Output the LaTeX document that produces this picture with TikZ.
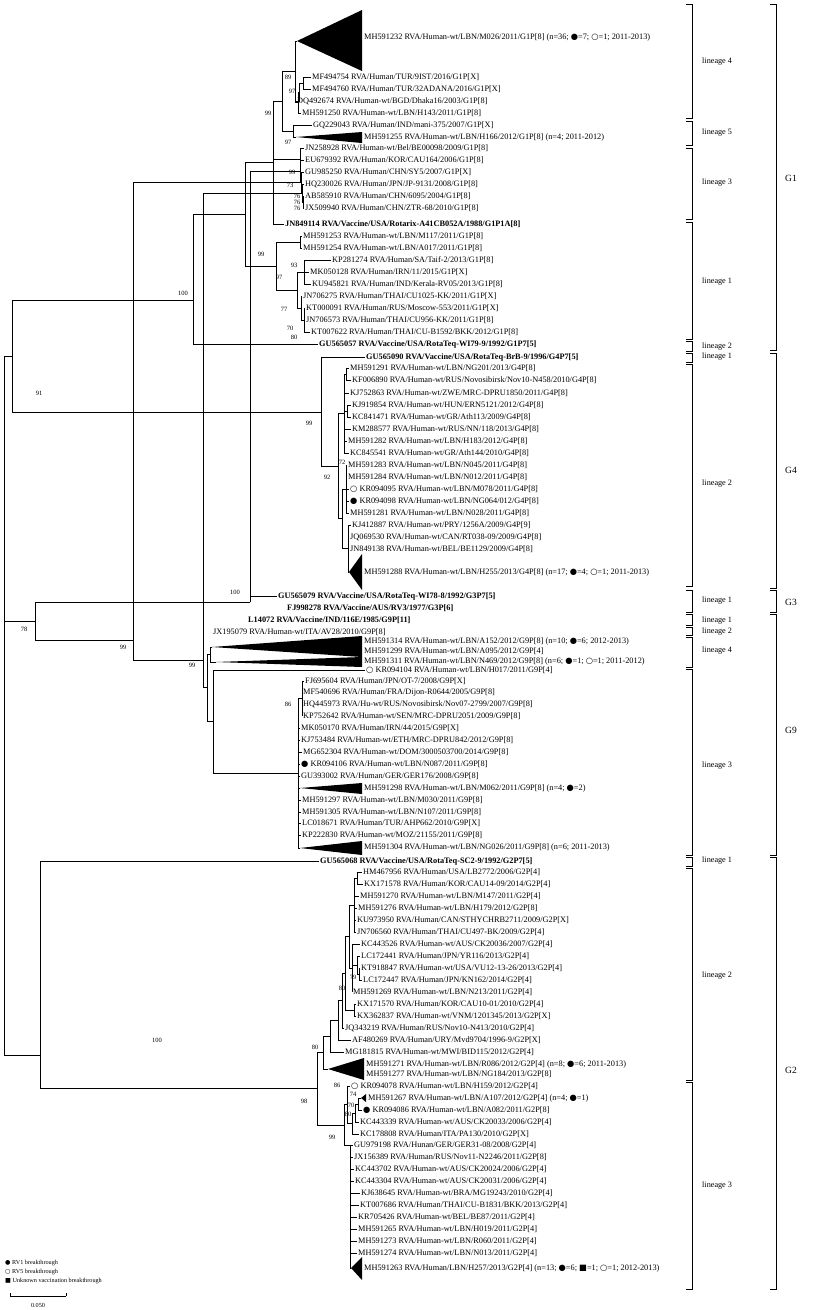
\documentclass[tikz,border=0pt]{standalone}
\usepackage{fontspec}
\setmainfont{Liberation Serif}
\newfontfamily\symf{DejaVu Sans}
\newcommand\mybk{{\symf ●}}
\newcommand\mywh{{\symf ○}}
\newcommand\mysq{{\symf ■}}
\begin{document}
\begin{tikzpicture}[x=1pt,y=-1pt,
  leaf/.style={anchor=west,inner sep=1pt,font=\fontsize{8.3}{9}\selectfont,text height=5.7pt,text depth=1.6pt},
  vac/.style={leaf,font=\fontsize{8.3}{9}\selectfont\bfseries},
  bs/.style={font=\fontsize{6.5}{7}\selectfont,inner sep=0pt},
  br/.style={line width=0.7pt},
  tri/.style={fill=black},
  brk/.style={line width=0.9pt},
  lin/.style={anchor=west,inner sep=0pt,font=\fontsize{8.2}{9}\selectfont},
  gl/.style={anchor=west,inner sep=0pt,font=\fontsize{9.5}{10}\selectfont},
  lgd/.style={anchor=west,inner sep=0pt,font=\fontsize{6.2}{7}\selectfont}]
\useasboundingbox (0,0) rectangle (816,1310);
% ---------------- G1 leaves
\node[leaf] (t1) at (363,37) {MH591232 RVA/Human-wt/LBN/M026/2011/G1P[8] (n=36; \mybk=7; \mywh=1; 2011-2013)};
\node[leaf] (a2) at (311,77) {MF494754 RVA/Human/TUR/9IST/2016/G1P[X]};
\node[leaf] (a3) at (311,89) {MF494760 RVA/Human/TUR/32ADANA/2016/G1P[X]};
\node[leaf] (a4) at (296,101) {DQ492674 RVA/Human-wt/BGD/Dhaka16/2003/G1P[8]};
\node[leaf] (a5) at (301,113) {MH591250 RVA/Human-wt/LBN/H143/2011/G1P[8]};
\node[leaf] (a6) at (312,125) {GQ229043 RVA/Human/IND/mani-375/2007/G1P[X]};
\node[leaf] (t7) at (363,137) {MH591255 RVA/Human-wt/LBN/H166/2012/G1P[8] (n=4; 2011-2012)};
\node[leaf] (a8) at (304,148) {JN258928 RVA/Human-wt/Bel/BE00098/2009/G1P[8]};
\node[leaf] (a9) at (304,160) {EU679392 RVA/Human/KOR/CAU164/2006/G1P[8]};
\node[leaf] (a10) at (304,172) {GU985250 RVA/Human/CHN/SY5/2007/G1P[X]};
\node[leaf] (a11) at (304,184) {HQ230026 RVA/Human/JPN/JP-9131/2008/G1P[8]};
\node[leaf] (a12) at (304,196) {AB585910 RVA/Human/CHN/6095/2004/G1P[8]};
\node[leaf] (a13) at (304,208) {JX509940 RVA/Human/CHN/ZTR-68/2010/G1P[8]};
\node[vac] (a14) at (284,224) {JN849114 RVA/Vaccine/USA/Rotarix-A41CB052A/1988/G1P1A[8]};
\node[leaf] (a15) at (302,236) {MH591253 RVA/Human-wt/LBN/M117/2011/G1P[8]};
\node[leaf] (a16) at (302,248) {MH591254 RVA/Human-wt/LBN/A017/2011/G1P[8]};
\node[leaf] (a17) at (331,260) {KP281274 RVA/Human/SA/Taif-2/2013/G1P[8]};
\node[leaf] (a18) at (309,272) {MK050128 RVA/Human/IRN/11/2015/G1P[X]};
\node[leaf] (a19) at (311,284) {KU945821 RVA/Human/IND/Kerala-RV05/2013/G1P[8]};
\node[leaf] (a20) at (302,296) {JN706275 RVA/Human/THAI/CU1025-KK/2011/G1P[X]};
\node[leaf] (a21) at (305,308) {KT000091 RVA/Human/RUS/Moscow-553/2011/G1P[X]};
\node[leaf] (a22) at (305,320) {JN706573 RVA/Human/THAI/CU956-KK/2011/G1P[8]};
\node[leaf] (a23) at (310,332) {KT007622 RVA/Human/THAI/CU-B1592/BKK/2012/G1P[8]};
\node[vac] (a24) at (318,344) {GU565057 RVA/Vaccine/USA/RotaTeq-WI79-9/1992/G1P7[5]};
% ---------------- G4 leaves
\node[vac] (b1) at (365,357) {GU565090 RVA/Vaccine/USA/RotaTeq-BrB-9/1996/G4P7[5]};
\node[leaf] (b2) at (349,368) {MH591291 RVA/Human-wt/LBN/NG201/2013/G4P[8]};
\node[leaf] (b3) at (351,380) {KF006890 RVA/Human-wt/RUS/Novosibirsk/Nov10-N458/2010/G4P[8]};
\node[leaf] (b4) at (349,393) {KJ752863 RVA/Human-wt/ZWE/MRC-DPRU1850/2011/G4P[8]};
\node[leaf] (b5) at (351,405) {KJ919854 RVA/Human-wt/HUN/ERN5121/2012/G4P[8]};
\node[leaf] (b6) at (351,417) {KC841471 RVA/Human-wt/GR/Ath113/2009/G4P[8]};
\node[leaf] (b7) at (351,429) {KM288577 RVA/Human-wt/RUS/NN/118/2013/G4P[8]};
\node[leaf] (b8) at (347,441) {MH591282 RVA/Human-wt/LBN/H183/2012/G4P[8]};
\node[leaf] (b9) at (349,453) {KC845541 RVA/Human-wt/GR/Ath144/2010/G4P[8]};
\node[leaf] (b10) at (347,465) {MH591283 RVA/Human-wt/LBN/N045/2011/G4P[8]};
\node[leaf] (b11) at (347,477) {MH591284 RVA/Human-wt/LBN/N012/2011/G4P[8]};
\node[leaf] (b12) at (349,489) {\mywh\ KR094095 RVA/Human-wt/LBN/M078/2011/G4P[8]};
\node[leaf] (b13) at (349,501) {\mybk\ KR094098 RVA/Human-wt/LBN/NG064/012/G4P[8]};
\node[leaf] (b14) at (349,513) {MH591281 RVA/Human-wt/LBN/N028/2011/G4P[8]};
\node[leaf] (b15) at (351,525) {KJ412887 RVA/Human-wt/PRY/1256A/2009/G4P[9]};
\node[leaf] (b16) at (349,537) {JQ069530 RVA/Human-wt/CAN/RT038-09/2009/G4P[8]};
\node[leaf] (b17) at (349,549) {JN849138 RVA/Human-wt/BEL/BE1129/2009/G4P[8]};
\node[leaf] (t18) at (363,572) {MH591288 RVA/Human-wt/LBN/H255/2013/G4P[8] (n=17; \mybk=4; \mywh=1; 2011-2013)};
% ---------------- G3 / G9 leaves
\node[vac] (c1) at (277,596) {GU565079 RVA/Vaccine/USA/RotaTeq-WI78-8/1992/G3P7[5]};
\node[vac] (c2) at (286,608) {FJ998278 RVA/Vaccine/AUS/RV3/1977/G3P[6]};
\node[vac] (c3) at (247,620) {L14072 RVA/Vaccine/IND/116E/1985/G9P[11]};
\node[leaf] (c4) at (212,632) {JX195079 RVA/Human-wt/ITA/AV28/2010/G9P[8]};
\node[leaf] (t5) at (363,641) {MH591314 RVA/Human-wt/LBN/A152/2012/G9P[8] (n=10; \mybk=6; 2012-2013)};
\node[leaf] (t5b) at (363,651) {MH591299 RVA/Human-wt/LBN/A095/2012/G9P[4]};
\node[leaf] (t6) at (363,661) {MH591311 RVA/Human-wt/LBN/N469/2012/G9P[8] (n=6; \mybk=1; \mywh=1; 2011-2012)};
\node[leaf] (c7) at (365,670) {\mywh\ KR094104 RVA/Human-wt/LBN/H017/2011/G9P[4]};
\node[leaf] (c8) at (304,681) {FJ695604 RVA/Human/JPN/OT-7/2008/G9P[X]};
\node[leaf] (c9) at (302,692) {MF540696 RVA/Human/FRA/Dijon-R0644/2005/G9P[8]};
\node[leaf] (c10) at (302,704) {HQ445973 RVA/Hu-wt/RUS/Novosibirsk/Nov07-2799/2007/G9P[8]};
\node[leaf] (c11) at (302,716) {KP752642 RVA/Human-wt/SEN/MRC-DPRU2051/2009/G9P[8]};
\node[leaf] (c12) at (300,728) {MK050170 RVA/Human/IRN/44/2015/G9P[X]};
\node[leaf] (c13) at (300,740) {KJ753484 RVA/Human-wt/ETH/MRC-DPRU842/2012/G9P[8]};
\node[leaf] (c14) at (302,752) {MG652304 RVA/Human-wt/DOM/3000503700/2014/G9P[8]};
\node[leaf] (c15) at (300,764) {\mybk\ KR094106 RVA/Human-wt/LBN/N087/2011/G9P[8]};
\node[leaf] (c16) at (300,776) {GU393002 RVA/Human/GER/GER176/2008/G9P[8]};
\node[leaf] (t17) at (363,788) {MH591298 RVA/Human-wt/LBN/M062/2011/G9P[8] (n=4; \mybk=2)};
\node[leaf] (c18) at (301,800) {MH591297 RVA/Human-wt/LBN/M030/2011/G9P[8]};
\node[leaf] (c19) at (301,812) {MH591305 RVA/Human-wt/LBN/N107/2011/G9P[8]};
\node[leaf] (c20) at (301,823) {LC018671 RVA/Human/TUR/AHP662/2010/G9P[X]};
\node[leaf] (c21) at (301,835) {KP222830 RVA/Human-wt/MOZ/21155/2011/G9P[8]};
\node[leaf] (t22) at (363,847) {MH591304 RVA/Human-wt/LBN/NG026/2011/G9P[8] (n=6; 2011-2013)};
% ---------------- G2 leaves
\node[vac] (d1) at (319,861) {GU565068 RVA/Vaccine/USA/RotaTeq-SC2-9/1992/G2P7[5]};
\node[leaf] (d2) at (362,872) {HM467956 RVA/Human/USA/LB2772/2006/G2P[4]};
\node[leaf] (d3) at (363,884) {KX171578 RVA/Human/KOR/CAU14-09/2014/G2P[4]};
\node[leaf] (d4) at (359,896) {MH591270 RVA/Human-wt/LBN/M147/2011/G2P[4]};
\node[leaf] (d5) at (357,908) {MH591276 RVA/Human-wt/LBN/H179/2012/G2P[8]};
\node[leaf] (d6) at (356,920) {KU973950 RVA/Human/CAN/STHYCHRB2711/2009/G2P[X]};
\node[leaf] (d7) at (356,932) {JN706560 RVA/Human/THAI/CU497-BK/2009/G2P[4]};
\node[leaf] (d8) at (360,944) {KC443526 RVA/Human-wt/AUS/CK20036/2007/G2P[4]};
\node[leaf] (d9) at (360,956) {LC172441 RVA/Human/JPN/YR116/2013/G2P[4]};
\node[leaf] (d10) at (360,968) {KT918847 RVA/Human-wt/USA/VU12-13-26/2013/G2P[4]};
\node[leaf] (d11) at (362,980) {LC172447 RVA/Human/JPN/KN162/2014/G2P[4]};
\node[leaf] (d12) at (352,992) {MH591269 RVA/Human-wt/LBN/N213/2011/G2P[4]};
\node[leaf] (d13) at (356,1004) {KX171570 RVA/Human/KOR/CAU10-01/2010/G2P[4]};
\node[leaf] (d14) at (356,1016) {KX362837 RVA/Human-wt/VNM/1201345/2013/G2P[X]};
\node[leaf] (d15) at (344,1028) {JQ343219 RVA/Human/RUS/Nov10-N413/2010/G2P[4]};
\node[leaf] (d16) at (351,1040) {AF480269 RVA/Human/URY/Mvd9704/1996-9/G2P[X]};
\node[leaf] (d17) at (344,1052) {MG181815 RVA/Human-wt/MWI/BID115/2012/G2P[4]};
\node[leaf] (t18b) at (365,1064) {MH591271 RVA/Human-wt/LBN/R086/2012/G2P[4] (n=8; \mybk=6; 2011-2013)};
\node[leaf] (t18c) at (365,1074) {MH591277 RVA/Human-wt/LBN/NG184/2013/G2P[8]};
\node[leaf] (d19) at (350,1086) {\mywh\ KR094078 RVA/Human-wt/LBN/H159/2012/G2P[4]};
\node[leaf] (t20) at (367,1098) {MH591267 RVA/Human-wt/LBN/A107/2012/G2P[4] (n=4; \mybk=1)};
\node[leaf] (d21) at (362,1110) {\mybk\ KR094086 RVA/Human-wt/LBN/A082/2011/G2P[8]};
\node[leaf] (d22) at (359,1122) {KC443339 RVA/Human-wt/AUS/CK20033/2006/G2P[4]};
\node[leaf] (d23) at (359,1134) {KC178808 RVA/Human/ITA/PA130/2010/G2P[X]};
\node[leaf] (d24) at (353,1145) {GU979198 RVA/Hunan/GER/GER31-08/2008/G2P[4]};
\node[leaf] (d25) at (353,1157) {JX156389 RVA/Human/RUS/Nov11-N2246/2011/G2P[8]};
\node[leaf] (d26) at (354,1169) {KC443702 RVA/Human-wt/AUS/CK20024/2006/G2P[4]};
\node[leaf] (d27) at (354,1181) {KC443304 RVA/Human-wt/AUS/CK20031/2006/G2P[4]};
\node[leaf] (d28) at (360,1193) {KJ638645 RVA/Human-wt/BRA/MG19243/2010/G2P[4]};
\node[leaf] (d29) at (359,1205) {KT007686 RVA/Human/THAI/CU-B1831/BKK/2013/G2P[4]};
\node[leaf] (d30) at (357,1217) {KR705426 RVA/Human-wt/BEL/BE87/2011/G2P[4]};
\node[leaf] (d31) at (357,1229) {MH591265 RVA/Human-wt/LBN/H019/2011/G2P[4]};
\node[leaf] (d32) at (357,1241) {MH591273 RVA/Human-wt/LBN/R060/2011/G2P[4]};
\node[leaf] (d33) at (357,1253) {MH591274 RVA/Human-wt/LBN/N013/2011/G2P[4]};
\node[leaf] (t34) at (363,1268) {MH591263 RVA/Human/LBN/H257/2013/G2P[4] (n=13; \mybk=6; \mysq=1; \mywh=1; 2012-2013)};
% ---------------- collapsed clades
\coordinate (T1) at (297,41);   \fill[tri] (T1) -- (362,10) -- (362,71) -- cycle;
\coordinate (T7) at (296,137);  \fill[tri] (T7) -- (362,132) -- (362,143) -- cycle;
\coordinate (T18) at (349,572); \fill[tri] (T18) -- (362,554) -- (362,590) -- cycle;
\coordinate (T5) at (212,647);  \fill[tri] (T5) -- (362,636) -- (362,657) -- cycle;
\coordinate (T6) at (216,662);  \fill[tri] (T6) -- (362,657) -- (362,667) -- cycle;
\coordinate (T17) at (300,788); \fill[tri] (T17) -- (362,783) -- (362,794) -- cycle;
\coordinate (T22) at (300,848); \fill[tri] (T22) -- (362,841) -- (362,855) -- cycle;
\coordinate (T2b) at (328,1069);\fill[tri] (T2b) -- (364,1058) -- (364,1080) -- cycle;
\coordinate (T20) at (361,1098);\fill[tri] (T20) -- (366,1094) -- (366,1102) -- cycle;
\coordinate (T34) at (351,1268);\fill[tri] (T34) -- (362,1257) -- (362,1280) -- cycle;
% ---------------- internal nodes
\coordinate (p89) at (303,83);
\coordinate (n97) at (299,92);
\coordinate (n4b) at (298,102.5);
\coordinate (L4) at (295,71.75);
\coordinate (L5) at (293,131);
\coordinate (L45) at (282,101.4);
\coordinate (c5) at (303,202);
\coordinate (c4) at (302,193);
\coordinate (c3) at (301,182.5);
\coordinate (c2) at (300.5,171.25);
\coordinate (L3) at (300,159.6);
\coordinate (NB) at (273,162.7);
\coordinate (n1a) at (300,242);
\coordinate (n1c) at (304,272);
\coordinate (n1f) at (304,320);
\coordinate (n1e) at (301,308);
\coordinate (n1b) at (297,290);
\coordinate (L1) at (276,266);
\coordinate (NA) at (245,214.4);
\coordinate (G1) at (193,300);
\coordinate (n4p) at (346,374);
\coordinate (n4q) at (347,411);
\coordinate (nTop) at (344,413.5);
\coordinate (n72) at (346,489);
\coordinate (n4u) at (348,548.5);
\coordinate (nBot) at (342,518.75);
\coordinate (L2g4) at (338,466.1);
\coordinate (G4) at (321,412);
\coordinate (G14) at (12,356);
\coordinate (G3) at (250,602);
\coordinate (n94) at (210,654.5);
\coordinate (n86) at (302,698.5);
\coordinate (n93b) at (298,773.25);
\coordinate (n93) at (213,721.1);
\coordinate (N9b) at (207,687.8);
\coordinate (N9a) at (203,659.9);
\coordinate (G9) at (133,640);
\coordinate (G39) at (35,621);
\coordinate (n2p) at (357,878);
\coordinate (n2q) at (354,905);
\coordinate (n2r) at (359,974);
\coordinate (n2s) at (357,965);
\coordinate (n2t) at (352,968);
\coordinate (n2u) at (349,936.5);
\coordinate (n2v) at (354,1010);
\coordinate (n2w) at (345,973.25);
\coordinate (n2x) at (342,1000.6);
\coordinate (n2y) at (338,1020.3);
\coordinate (n2z) at (330,1036.2);
\coordinate (L2r) at (323,1052.6);
\coordinate (n3c) at (358,1104);
\coordinate (n3d) at (355,1113);
\coordinate (n3e) at (352,1123.5);
\coordinate (n3a) at (347,1104.75);
\coordinate (n3f) at (350,1145.25);
\coordinate (L3r) at (344,1125);
\coordinate (n2b) at (317,1088.8);
\coordinate (G2) at (40,1055);
\coordinate (root) at (4,621);
% ---------------- branches
\begin{scope}[br]
\draw (p89) |- (a2.west); \draw (p89) |- (a3.west);
\draw (n97) |- (p89); \draw (n97) |- (a4.west);
\draw (n4b) |- (n97); \draw (n4b) |- (a5.west);
\draw (L4) |- (T1); \draw (L4) |- (n4b);
\draw (L5) |- (a6.west); \draw (L5) |- (T7);
\draw (L45) |- (L4); \draw (L45) |- (L5);
\draw (c5) |- (a12.west); \draw (c5) |- (a13.west);
\draw (c4) |- (a11.west); \draw (c4) |- (c5);
\draw (c3) |- (a10.west); \draw (c3) |- (c4);
\draw (c2) |- (a9.west); \draw (c2) |- (c3);
\draw (L3) |- (a8.west); \draw (L3) |- (c2);
\draw (NB) |- (L45); \draw (NB) |- (L3); \draw (NB) |- (a14.west);
\draw (n1a) |- (a15.west); \draw (n1a) |- (a16.west);
\draw (n1c) |- (a17.west); \draw (n1c) |- (a18.west); \draw (n1c) |- (a19.west);
\draw (n1f) |- (a21.west); \draw (n1f) |- (a22.west); \draw (n1f) |- (a23.west);
\draw (n1e) |- (a20.west); \draw (n1e) |- (n1f);
\draw (n1b) |- (n1c); \draw (n1b) |- (n1e);
\draw (L1) |- (n1a); \draw (L1) |- (n1b);
\draw (NA) |- (NB); \draw (NA) |- (L1);
\draw (G1) |- (NA); \draw (G1) |- (a24.west);
\draw (n4p) |- (b2.west); \draw (n4p) |- (b3.west);
\draw (n4q) |- (b5.west); \draw (n4q) |- (b6.west);
\draw (nTop) |- (n4p); \draw (nTop) |- (b4.west); \draw (nTop) |- (n4q); \draw (nTop) |- (b7.west); \draw (nTop) |- (b8.west); \draw (nTop) |- (b9.west);
\draw (n72) |- (b10.west); \draw (n72) |- (b11.west); \draw (n72) |- (b12.west); \draw (n72) |- (b13.west); \draw (n72) |- (b14.west);
\draw (n4u) |- (b15.west); \draw (n4u) |- (b16.west); \draw (n4u) |- (b17.west); \draw (n4u) |- (T18);
\draw (nBot) |- (n72); \draw (nBot) |- (n4u);
\draw (L2g4) |- (nTop); \draw (L2g4) |- (nBot);
\draw (G4) |- (b1.west); \draw (G4) |- (L2g4);
\draw (G14) |- (G1); \draw (G14) |- (G4);
\draw (G3) |- (c1.west); \draw (G3) |- (c2.west);
\draw (n94) |- (T5); \draw (n94) |- (T6);
\draw (n86) |- (c8.west); \draw (n86) |- (c9.west); \draw (n86) |- (c10.west); \draw (n86) |- (c11.west);
\draw (n93b) |- (n86); \draw (n93b) |- (c12.west); \draw (n93b) |- (c13.west); \draw (n93b) |- (c14.west); \draw (n93b) |- (c15.west); \draw (n93b) |- (c16.west); \draw (n93b) |- (T17); \draw (n93b) |- (c18.west); \draw (n93b) |- (c19.west); \draw (n93b) |- (c20.west); \draw (n93b) |- (c21.west); \draw (n93b) |- (T22);
\draw (n93) |- (c7.west); \draw (n93) |- (n93b);
\draw (N9b) |- (n94); \draw (N9b) |- (n93);
\draw (N9a) |- (c4.west); \draw (N9a) |- (N9b);
\draw (G9) |- (c3.west); \draw (G9) |- (N9a);
\draw (G39) |- (G3); \draw (G39) |- (G9);
\draw (n2p) |- (d2.west); \draw (n2p) |- (d3.west);
\draw (n2q) |- (n2p); \draw (n2q) |- (d4.west); \draw (n2q) |- (d5.west); \draw (n2q) |- (d6.west); \draw (n2q) |- (d7.west);
\draw (n2r) |- (d10.west); \draw (n2r) |- (d11.west);
\draw (n2s) |- (d9.west); \draw (n2s) |- (n2r);
\draw (n2t) |- (d8.west); \draw (n2t) |- (n2s); \draw (n2t) |- (d12.west);
\draw (n2u) |- (n2q); \draw (n2u) |- (n2t);
\draw (n2v) |- (d13.west); \draw (n2v) |- (d14.west);
\draw (n2w) |- (n2u); \draw (n2w) |- (n2v);
\draw (n2x) |- (n2w); \draw (n2x) |- (d15.west);
\draw (n2y) |- (n2x); \draw (n2y) |- (d16.west);
\draw (n2z) |- (n2y); \draw (n2z) |- (d17.west);
\draw (L2r) |- (n2z); \draw (L2r) |- (T2b);
\draw (n3c) |- (T20); \draw (n3c) |- (d21.west);
\draw (n3d) |- (n3c); \draw (n3d) |- (d22.west);
\draw (n3e) |- (n3d); \draw (n3e) |- (d23.west);
\draw (n3a) |- (d19.west); \draw (n3a) |- (n3e);
\foreach \l in {d24,d25,d26,d27,d28,d29,d30,d31,d32,d33} {\draw (n3f) |- (\l.west);}
\draw (n3f) |- (T34);
\draw (L3r) |- (n3a); \draw (L3r) |- (n3f);
\draw (n2b) |- (L2r); \draw (n2b) |- (L3r);
\draw (G2) |- (d1.west); \draw (G2) |- (n2b);
\draw (root) |- (G14); \draw (root) |- (G39); \draw (root) |- (G2);
\end{scope}
% ---------------- bootstrap values
\node[bs] at (288,77) {89};
\node[bs] at (292,91) {97};
\node[bs] at (268,113) {99};
\node[bs] at (288,142) {97};
\node[bs] at (292,172) {99};
\node[bs] at (290,185) {73};
\node[bs] at (297,196) {76};
\node[bs] at (297,202) {76};
\node[bs] at (297,208) {76};
\node[bs] at (261,254) {99};
\node[bs] at (294,265) {93};
\node[bs] at (279,277) {97};
\node[bs] at (284,309) {77};
\node[bs] at (290,328) {70};
\node[bs] at (294,337) {80};
\node[bs] at (183,293) {100};
\node[bs] at (39,393) {91};
\node[bs] at (309,423) {99};
\node[bs] at (342,462) {72};
\node[bs] at (327,477) {92};
\node[bs] at (235,592) {100};
\node[bs] at (24,629) {78};
\node[bs] at (123,647) {99};
\node[bs] at (192,665) {99};
\node[bs] at (288,704) {86};
\node[bs] at (353,977) {79};
\node[bs] at (342,988) {80};
\node[bs] at (315,1047) {80};
\node[bs] at (157,1040) {100};
\node[bs] at (337,1085) {86};
\node[bs] at (353,1094) {74};
\node[bs] at (351,1105) {70};
\node[bs] at (348,1114) {80};
\node[bs] at (304,1101) {98};
\node[bs] at (332,1137) {99};
% ---------------- lineage brackets
\foreach \a/\b/\m/\t in {4/118/62/lineage 4, 121/145/133/lineage 5, 148/219/183/lineage 3, 222/339/282/lineage 1, 341/351/347/lineage 2, 353/362/357/lineage 1, 364/586/484/lineage 2, 590/612/601/lineage 1, 614/625/621/lineage 1, 627/635/632/lineage 2, 637/667/651/lineage 4, 669/855/766/lineage 3, 857/866/861/lineage 1, 868/1080/976/lineage 2, 1082/1289/1186/lineage 3}{
  \draw[brk] (686,\a) -- (692,\a) -- (692,\b) -- (686,\b);
  \node[lin] at (702,\m) {\t};
}
\foreach \a/\b/\m/\t in {4/350/178/G1, 353/588/470/G4, 590/612/602/G3, 614/855/730/G9, 857/1289/1070/G2}{
  \draw[brk] (770,\a) -- (776,\a) -- (776,\b) -- (770,\b);
  \node[gl] at (785,\m) {\t};
}
% ---------------- legend
\node[lgd] (lg1) at (5,1263) {\mybk\ RV1 breakthrough};
\node[lgd] (lg2) at (5,1272) {\mywh\ RV5 breakthrough};
\node[lgd] (lg3) at (5,1281) {\mysq\ Unknown vaccination breakthrough};
\coordinate (sb1) at (10,1296); \coordinate (sb2) at (66,1296);
\draw[line width=0.6pt] (sb1) -- (sb2);
\draw[line width=0.6pt] (sb1) -- ++(0,-3); \draw[line width=0.6pt] (sb2) -- ++(0,-3);
\node[inner sep=0pt,font=\fontsize{6.2}{7}\selectfont] (sbl) at (38,1305) {0.050};
\end{tikzpicture}
\end{document}
